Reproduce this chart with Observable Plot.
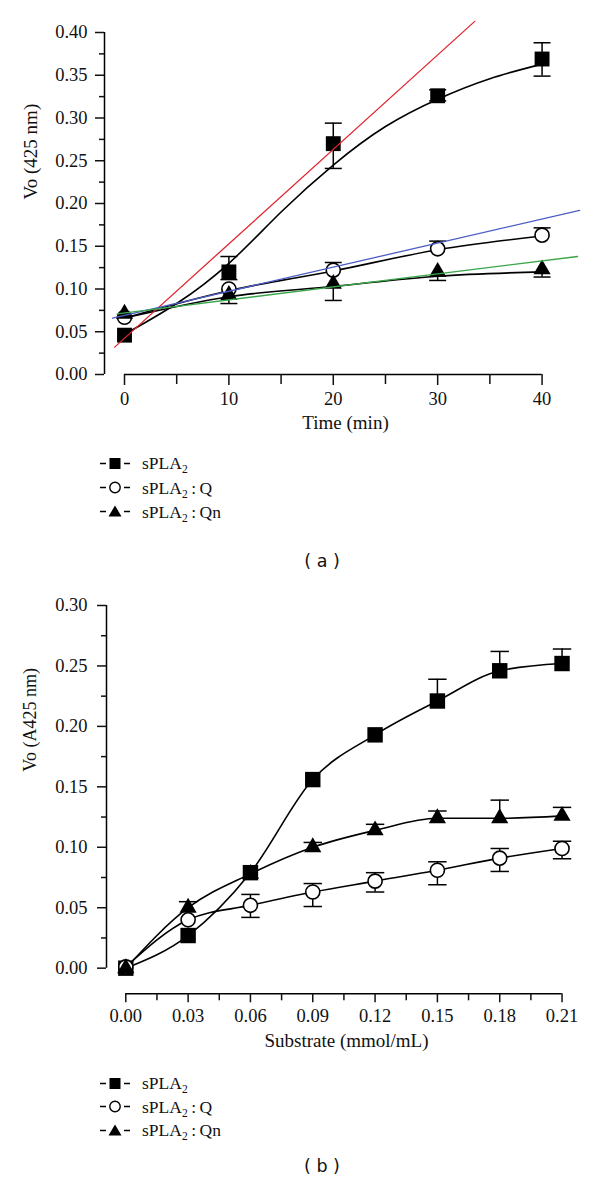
<!DOCTYPE html>
<html><head><meta charset="utf-8">
<script src="https://cdn.jsdelivr.net/npm/d3@7"></script>
<script src="https://cdn.jsdelivr.net/npm/@observablehq/plot@0.6"></script>
<style>
html,body{margin:0;padding:0;background:#fff;}
body{width:600px;height:1194px;position:relative;overflow:hidden;font-family:"Liberation Serif",serif;color:#111;}
.abs{position:absolute;left:0;}
.lrow{position:absolute;white-space:nowrap;font-family:"Liberation Serif",serif;font-size:17.5px;line-height:18px;transform:translateY(-50%);display:flex;align-items:center;}
.lrow svg{margin-right:12px;}
.lrow sub{font-size:11.5px;vertical-align:-4px;line-height:0;}
.panel{position:absolute;font-family:"DejaVu Sans",sans-serif;font-size:17.5px;transform:translate(-50%,-50%);white-space:pre;}
</style></head><body>
<div id="pa" class="abs" style="top:0"></div>
<div id="pb" class="abs" style="top:580px"></div>
<div id="la"></div>
<div id="lb"></div>
<div class="panel" style="left:322px;top:561px">( a )</div>
<div class="panel" style="left:322px;top:1166px">( b )</div>
<script>
// ---------- Panel (a): Vo vs time ----------
const timeMin = [0, 10, 20, 30, 40];
const timeTicks = [0, 10, 20, 30, 40];
const timeMinorTicks = [5, 15, 25, 35];
const yTicksA = [0, 0.05, 0.10, 0.15, 0.20, 0.25, 0.30, 0.35, 0.40];
const yMinorA = [0.025, 0.075, 0.125, 0.175, 0.225, 0.275, 0.325, 0.375];

const a_sPLA2    = [0.046, 0.120, 0.270, 0.326, 0.369];
const a_sPLA2_lo = [null, 0.111, 0.241, 0.320, 0.349];
const a_sPLA2_hi = [null, 0.138, 0.294, 0.333, 0.388];
const a_Q        = [0.067, 0.100, 0.122, 0.147, 0.163];
const a_Q_lo     = [null, null, null, null, null];
const a_Q_hi     = [null, null, 0.131, 0.156, 0.1715];
const a_Qn       = [0.071, 0.093, 0.106, 0.120, 0.123];
const a_Qn_lo    = [null, 0.083, 0.0866, 0.110, 0.114];
const a_Qn_hi    = [null, null, null, null, null];

// fitted black curves
const aFitT       = [0, 5, 10, 15, 20, 25, 30, 35, 40];
const aFit_sPLA2  = [0.047, 0.083, 0.130, 0.190, 0.245, 0.290, 0.322, 0.346, 0.363];
const aFit_Q      = [0.066, 0.098, 0.121, 0.146, 0.162];
const aFit_Qn     = [0.066, 0.091, 0.103, 0.115, 0.120];

// linear regression lines (end points)
const redT = [-0.94, 33.55],  redV = [0.032, 0.413];
const blueT = [-1.15, 43.6],  blueV = [0.066, 0.192];
const greenT = [-0.7, 43.4],  greenV = [0.071, 0.138];

// ---------- Panel (b): Vo vs substrate ----------
const substrate = [0, 0.03, 0.06, 0.09, 0.12, 0.15, 0.18, 0.21];
const substrateTicks = [0, 0.03, 0.06, 0.09, 0.12, 0.15, 0.18, 0.21];
const substrateMinor = [0.015, 0.045, 0.075, 0.105, 0.135, 0.165, 0.195];
const yTicksB = [0, 0.05, 0.10, 0.15, 0.20, 0.25, 0.30];
const yMinorB = [0.025, 0.075, 0.125, 0.175, 0.225, 0.275];

const b_sPLA2    = [0.000, 0.027, 0.079, 0.156, 0.193, 0.221, 0.246, 0.252];
const b_sPLA2_lo = [null, null, null, null, null, null, null, null];
const b_sPLA2_hi = [null, null, null, null, null, 0.239, 0.262, 0.264];
const b_Q        = [0.001, 0.040, 0.052, 0.063, 0.072, 0.081, 0.091, 0.099];
const b_Q_lo     = [null, null, 0.042, 0.051, 0.063, 0.069, 0.080, 0.0905];
const b_Q_hi     = [null, null, 0.061, 0.070, 0.079, 0.088, 0.099, 0.105];
const b_Qn       = [0.000, 0.050, 0.078, 0.100, 0.114, 0.124, 0.124, 0.126];
const b_Qn_lo    = [null, null, null, null, null, null, null, null];
const b_Qn_hi    = [null, 0.055, null, 0.104, 0.119, 0.130, 0.139, 0.133];

const seriesNames = ["sPLA2", "sPLA2:Q", "sPLA2:Qn"];
const seriesSymbols = ["square", "circle", "triangle"];

// ---------- helpers ----------
const pts = (xs, ys) => xs.map((x, i) => ({x, y: ys[i]}));
function errRules(xs, ys, lo, hi) {
  const out = [];
  xs.forEach((x, i) => {
    if (lo[i] == null && hi[i] == null) return;
    out.push({x, y1: lo[i] ?? ys[i], y2: hi[i] ?? ys[i]});
  });
  return out;
}
function errCaps(xs, lo, hi) {
  const out = [];
  xs.forEach((x, i) => {
    if (lo[i] != null) out.push({x, y: lo[i]});
    if (hi[i] != null) out.push({x, y: hi[i]});
  });
  return out;
}
const capSymbol = {draw(ctx, size) { const w = Math.sqrt(size / Math.PI); ctx.moveTo(-w, 0); ctx.lineTo(w, 0); }};
const fmt2 = d3.format(".2f");

function markerMarks(xs, ys, sym, r) {
  const d = pts(xs, ys);
  if (sym === "square") return Plot.dot(d, {x: "x", y: "y", symbol: "square", r: r, fill: "#000", stroke: "none"});
  if (sym === "circle") return Plot.dot(d, {x: "x", y: "y", symbol: "circle", r: r * 0.8, fill: "#fff", stroke: "#000", strokeWidth: 1.6});
  return Plot.dot(d, {x: "x", y: "y", symbol: "triangle", r: r * 0.76, fill: "#000", stroke: "none"});
}
function errMarks(xs, ys, lo, hi, capR) {
  return [
    Plot.ruleX(errRules(xs, ys, lo, hi), {x: "x", y1: "y1", y2: "y2", stroke: "#000", strokeWidth: 1.5}),
    Plot.dot(errCaps(xs, lo, hi), {x: "x", y: "y", symbol: capSymbol, r: capR, fill: "none", stroke: "#000", strokeWidth: 1.5})
  ];
}

// ---------- Panel (a) plot ----------
const xMinA = -1.916;
const plotA = Plot.plot({
  width: 600, height: 440,
  marginLeft: 104, marginRight: 10, marginTop: 32, marginBottom: 66,
  x: {domain: [xMinA, 44.64]},
  y: {domain: [0, 0.4]},
  style: {fontFamily: "Liberation Serif, serif", fontSize: "18.5px", color: "#111", background: "#fff"},
  marks: [
    Plot.ruleX([xMinA], {y1: 0, y2: 0.4, stroke: "#000", strokeWidth: 1.5}),
    Plot.axisY({ticks: yTicksA, tickSize: 9, tickPadding: 8, tickFormat: fmt2, strokeWidth: 1.5, label: null}),
    Plot.axisY({ticks: yMinorA, tickSize: 5, tickFormat: () => "", strokeWidth: 1.5, label: null}),
    Plot.ruleY([0], {x1: timeTicks[0], x2: timeTicks[timeTicks.length - 1], stroke: "#000", strokeWidth: 1.5}),
    Plot.axisX({ticks: timeTicks, tickSize: 11, tickPadding: 6, strokeWidth: 1.5, label: null}),
    Plot.axisX({ticks: timeMinorTicks, tickSize: 10, tickFormat: () => "", strokeWidth: 1.5, label: null}),
    Plot.text(["Vo (425 nm)"], {frameAnchor: "left", rotate: -90, dx: -74, dy: -4, fontSize: 19, fill: "#111"}),
    Plot.text(["Time (min)"], {frameAnchor: "bottom", dy: 54, dx: -2, fontSize: 19, fill: "#111"}),
    // fitted curves
    Plot.line(pts(aFitT, aFit_sPLA2), {x: "x", y: "y", curve: "natural", stroke: "#000", strokeWidth: 1.6}),
    Plot.line(pts(timeMin, aFit_Q), {x: "x", y: "y", curve: "monotone-x", stroke: "#000", strokeWidth: 1.6}),
    Plot.line(pts(timeMin, aFit_Qn), {x: "x", y: "y", curve: "monotone-x", stroke: "#000", strokeWidth: 1.6}),
    // error bars
    ...errMarks(timeMin, a_sPLA2, a_sPLA2_lo, a_sPLA2_hi, 8.5),
    ...errMarks(timeMin, a_Q, a_Q_lo, a_Q_hi, 8.5),
    ...errMarks(timeMin, a_Qn, a_Qn_lo, a_Qn_hi, 8.5),
    // markers
    markerMarks(timeMin, a_sPLA2, "square", 8.4),
    markerMarks(timeMin, a_Q, "circle", 8.8),
    markerMarks(timeMin, a_Qn, "triangle", 8.4),
    // regression lines
    Plot.line(pts(redT, redV), {x: "x", y: "y", stroke: "#e3262e", strokeWidth: 1.3}),
    Plot.line(pts(blueT, blueV), {x: "x", y: "y", stroke: "#4b5cc4", strokeWidth: 1.3}),
    Plot.line(pts(greenT, greenV), {x: "x", y: "y", stroke: "#3aa64a", strokeWidth: 1.3})
  ]
});
document.getElementById("pa").appendChild(plotA);

// ---------- Panel (b) plot ----------
const xMinB = -0.00929, yMinB = -0.0212;
const plotB = Plot.plot({
  width: 600, height: 480,
  marginLeft: 106, marginRight: 10, marginTop: 25, marginBottom: 66.7,
  x: {domain: [xMinB, 0.2237]},
  y: {domain: [yMinB, 0.30]},
  style: {fontFamily: "Liberation Serif, serif", fontSize: "18.5px", color: "#111", background: "#fff"},
  marks: [
    Plot.ruleX([xMinB], {y1: 0, y2: 0.30, stroke: "#000", strokeWidth: 1.5}),
    Plot.axisY({ticks: yTicksB, tickSize: 9, tickPadding: 10, tickFormat: fmt2, strokeWidth: 1.5, label: null}),
    Plot.axisY({ticks: yMinorB, tickSize: 5, tickFormat: () => "", strokeWidth: 1.5, label: null}),
    Plot.ruleY([yMinB], {x1: substrateTicks[0], x2: substrateTicks[substrateTicks.length - 1], stroke: "#000", strokeWidth: 1.5}),
    Plot.axisX({ticks: substrateTicks, tickSize: 9, tickPadding: 6, tickFormat: fmt2, strokeWidth: 1.5, label: null}),
    Plot.axisX({ticks: substrateMinor, tickSize: 7, tickFormat: () => "", strokeWidth: 1.5, label: null}),
    Plot.text(["Vo (A425 nm)"], {frameAnchor: "left", rotate: -90, dx: -76, dy: -28, fontSize: 18, fill: "#111"}),
    Plot.text(["Substrate (mmol/mL)"], {frameAnchor: "bottom", dy: 53, dx: -2, fontSize: 19, fill: "#111"}),
    Plot.line(pts(substrate, b_sPLA2), {x: "x", y: "y", curve: "monotone-x", stroke: "#000", strokeWidth: 1.6}),
    Plot.line(pts(substrate, b_Q), {x: "x", y: "y", curve: "monotone-x", stroke: "#000", strokeWidth: 1.6}),
    Plot.line(pts(substrate, b_Qn), {x: "x", y: "y", curve: "monotone-x", stroke: "#000", strokeWidth: 1.6}),
    ...errMarks(substrate, b_sPLA2, b_sPLA2_lo, b_sPLA2_hi, 9.2),
    ...errMarks(substrate, b_Q, b_Q_lo, b_Q_hi, 9.2),
    ...errMarks(substrate, b_Qn, b_Qn_lo, b_Qn_hi, 9.2),
    markerMarks(substrate, b_sPLA2, "square", 8.7),
    markerMarks(substrate, b_Q, "circle", 8.8),
    markerMarks(substrate, b_Qn, "triangle", 8.4)
  ]
});
document.getElementById("pb").appendChild(plotB);

// ---------- legends ----------
function keySvg(sym) {
  let m;
  if (sym === "square") m = '<rect x="9.5" y="3" width="11" height="11" fill="#000"/>';
  else if (sym === "circle") m = '<circle cx="15" cy="8.5" r="5.2" fill="#fff" stroke="#000" stroke-width="1.4"/>';
  else m = '<path d="M15 2.5 L21.5 13.5 L8.5 13.5 Z" fill="#000"/>';
  return '<svg width="30" height="17" viewBox="0 0 30 17"><line x1="0" y1="8.5" x2="6" y2="8.5" stroke="#000" stroke-width="1.5"/>' +
    m + '<line x1="24" y1="8.5" x2="30" y2="8.5" stroke="#000" stroke-width="1.5"/></svg>';
}
function labelHtml(name) {
  const [base, suffix] = name.split(":");
  const b = base.replace(/2$/, "<sub>2</sub>");
  return suffix ? b + "&thinsp;:&thinsp;" + suffix : b;
}
function buildLegend(id, left, tops) {
  const el = document.getElementById(id);
  seriesNames.forEach((n, i) => {
    const row = document.createElement("div");
    row.className = "lrow";
    row.style.left = left + "px";
    row.style.top = tops[i] + "px";
    row.innerHTML = keySvg(seriesSymbols[i]) + "<span>" + labelHtml(n) + "</span>";
    el.appendChild(row);
  });
}
buildLegend("la", 100, [463, 487.5, 511.5]);
buildLegend("lb", 100, [1083, 1106.5, 1130]);
</script>
</body></html>
